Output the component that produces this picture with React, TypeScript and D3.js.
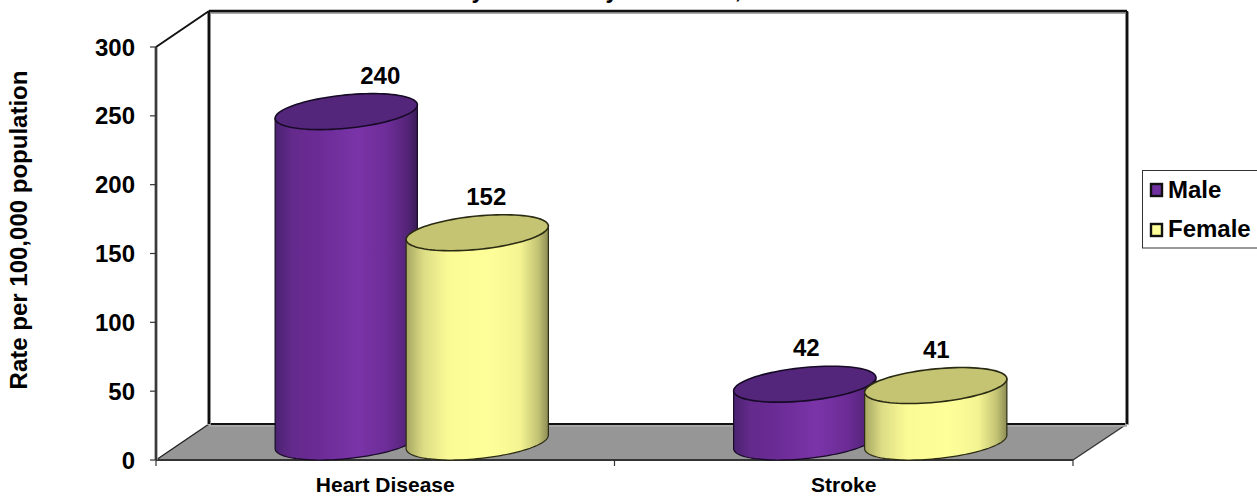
import React from "react";
import * as d3 from "d3";

const categories = ["Heart Disease", "Stroke"];
const seriesNames = ["Male", "Female"];
const maleValues = [240, 42];
const femaleValues = [152, 41];
const yTicks = [0, 50, 100, 150, 200, 250, 300];
const titleFragments = [
  { text: "y", x: 478 },
  { text: "y", x: 612 },
  { text: ",", x: 738 },
];
const maleLabelShift = [34, 1.5];
const femaleLabelShift = [9, 0.5];

const W = 1257;
const H = 497;
const FONT = "'Liberation Sans', Arial, sans-serif";
const frontLeft = 156;
const frontRight = 1073;
const frontBottom = 460;
const frontTop = 47;
const depthX = 53;
const depthY = 36;

const y = d3.scaleLinear().domain([0, 300]).range([frontBottom, frontTop]);
const xCat = d3.scaleBand<string>().domain(categories).range([frontLeft, frontRight]);
const xSeries = d3
  .scaleBand<string>()
  .domain(seriesNames)
  .range([0, xCat.bandwidth()])
  .paddingOuter(xCat.bandwidth() / 262 - 1);

const seriesColors: Record<string, { grad: string; top: string; stroke: string; swatch: string; stops: [number, string][] }> = {
  Male: {
    grad: "gradMale",
    top: "#54267b",
    stroke: "#170a26",
    swatch: "#7030a0",
    stops: [
      [0, "#4a2270"],
      [0.12, "#642a8c"],
      [0.3, "#6b2b95"],
      [0.58, "#7a34a8"],
      [0.8, "#6c2c96"],
      [0.93, "#542478"],
      [1, "#3a1a58"],
    ],
  },
  Female: {
    grad: "gradFemale",
    top: "#c4c473",
    stroke: "#2b2b14",
    swatch: "#ffff99",
    stops: [
      [0, "#a6a662"],
      [0.12, "#dcdc85"],
      [0.3, "#fbfb96"],
      [0.58, "#ffff9a"],
      [0.8, "#f4f492"],
      [0.93, "#c2c274"],
      [1, "#8c8c54"],
    ],
  },
};

const halfW = 66;
const skewX = depthX / 2;
const skewY = depthY / 2;
const angles = d3.range(0, 361, 4).map((d) => (d * Math.PI) / 180);
const extremeAngle = Math.atan2(skewX, halfW);

function ellipsePoint(cx: number, cy: number, t: number): [number, number] {
  return [cx + halfW * Math.cos(t) + skewX * Math.sin(t), cy - skewY * Math.sin(t)];
}
const curve = d3.line().curve(d3.curveLinear);

function Label(p: { x: number; y: number; text: string | number; size: number; anchor?: string; transform?: string }) {
  return (
    <text
      x={p.x}
      y={p.y}
      transform={p.transform}
      textAnchor={p.anchor ?? "middle"}
      fontSize={p.size}
      fontWeight={700}
      fontFamily={FONT}
      fill="#000"
    >
      {p.text}
    </text>
  );
}

function Cylinder({ series, cat, value, shift }: { series: string; cat: string; value: number; shift: number }) {
  const c = seriesColors[series];
  const cx = (xCat(cat) as number) + (xSeries(series) as number) + xSeries.bandwidth() / 2 + skewX;
  const cyBase = y(0) - skewY;
  const cyTop = y(value) - skewY;
  const lower = d3.range(0, 61).map((i) => extremeAngle - (i / 60) * Math.PI);
  const basePts = lower.map((t) => ellipsePoint(cx, cyBase, t));
  const topRight = ellipsePoint(cx, cyTop, extremeAngle);
  const topLeft = ellipsePoint(cx, cyTop, extremeAngle - Math.PI);
  const bodyPath = curve([topRight, ...basePts, topLeft]) + "Z";
  const topPath = curve(angles.map((t) => ellipsePoint(cx, cyTop, t))) + "Z";
  return (
    <g>
      <path d={bodyPath} fill={`url(#${c.grad})`} stroke={c.stroke} strokeWidth={1.2} strokeLinejoin="round" />
      <path d={topPath} fill={c.top} stroke={c.stroke} strokeWidth={1.6} />
      <Label x={cx + shift} y={cyTop - skewY - 10} text={value} size={24} />
    </g>
  );
}

function Rule({ x1, y1, x2, y2, w = 2.4 }: { x1: number; y1: number; x2: number; y2: number; w?: number }) {
  return (
    <g>
      <line x1={x1} y1={y1 + 1} x2={x2} y2={y2 + 1} stroke="#a8a8a8" strokeWidth={w + 1.4} />
      <line x1={x1} y1={y1} x2={x2} y2={y2} stroke="#111" strokeWidth={w} />
    </g>
  );
}

export default function App() {
  const backTop = y(300) - depthY;
  const backBottom = y(0) - depthY;
  const backLeft = frontLeft + depthX;
  const backRight = frontRight + depthX + 1;
  const floor = [
    [frontLeft, frontBottom],
    [backLeft, backBottom],
    [backRight, backBottom],
    [frontRight, frontBottom],
  ].join(" ");
  const catTickXs = [frontLeft, frontLeft + xCat.bandwidth(), frontRight];
  return (
    <svg
      width={W}
      height={H}
      viewBox={`0 0 ${W} ${H}`}
      style={{ position: "fixed", left: 0, top: 0, display: "block", background: "#fff" }}
    >
      <defs>
        {seriesNames.map((s) => (
          <linearGradient key={s} id={seriesColors[s].grad} x1="0" x2="1" y1="0" y2="0">
            {seriesColors[s].stops.map(([o, col]) => (
              <stop key={o} offset={o} stopColor={col} />
            ))}
          </linearGradient>
        ))}
      </defs>

      {titleFragments.map((f, i) => (
        <text key={i} x={f.x} y={-2} textAnchor="middle" fontSize={23} fontWeight={700} fontFamily={FONT}>
          {f.text}
        </text>
      ))}

      <polygon points={floor} fill="#969696" />
      <line x1={frontLeft} y1={frontBottom} x2={frontRight} y2={frontBottom} stroke="#333" strokeWidth={2} />
      <line x1={frontRight} y1={frontBottom} x2={backRight} y2={backBottom} stroke="#333" strokeWidth={1.4} />
      <line x1={frontLeft} y1={frontBottom} x2={backLeft} y2={backBottom} stroke="#222" strokeWidth={1.4} />
      <Rule x1={backLeft} y1={backBottom} x2={backRight} y2={backBottom} w={2} />
      <Rule x1={backLeft} y1={backTop} x2={backRight} y2={backTop} />
      <Rule x1={backLeft} y1={backTop} x2={backLeft} y2={backBottom} />
      <Rule x1={backRight} y1={backTop} x2={backRight} y2={backBottom} />
      <line x1={frontLeft} y1={y(300)} x2={backLeft} y2={backTop} stroke="#111" strokeWidth={2} />
      <line x1={frontLeft} y1={y(300)} x2={frontLeft} y2={frontBottom} stroke="#999" strokeWidth={3.4} />
      <line x1={frontLeft} y1={y(300)} x2={frontLeft} y2={frontBottom} stroke="#222" strokeWidth={1.6} />

      {yTicks.map((t) => (
        <g key={t}>
          <line x1={frontLeft - 6} x2={frontLeft} y1={y(t)} y2={y(t)} stroke="#333" strokeWidth={1.2} />
          <Label x={135} y={y(t) + 8.5} text={t} size={24} anchor="end" />
        </g>
      ))}
      {catTickXs.map((x, i) => (
        <line key={i} x1={x} x2={x} y1={frontBottom} y2={frontBottom + 6} stroke="#333" strokeWidth={1.2} />
      ))}
      {categories.map((c) => (
        <Label key={c} x={(xCat(c) as number) + xCat.bandwidth() / 2} y={491.5} text={c} size={21} />
      ))}

      <Label transform="translate(27,230) rotate(-90)" x={0} y={0} text="Rate per 100,000 population" size={24} />

      {categories.map((c, i) => (
        <g key={c}>
          <Cylinder series="Male" cat={c} value={maleValues[i]} shift={maleLabelShift[i]} />
          <Cylinder series="Female" cat={c} value={femaleValues[i]} shift={femaleLabelShift[i]} />
        </g>
      ))}

      <rect x={1142.5} y={170.5} width={130} height={77.5} fill="#fff" stroke="#333" strokeWidth={1} />
      <line x1={1142} x2={1257} y1={248.5} y2={248.5} stroke="#999" strokeWidth={1} />
      {seriesNames.map((s, i) => (
        <g key={s}>
          <rect
            x={1151}
            y={184 + i * 40}
            width={11}
            height={12}
            fill={seriesColors[s].swatch}
            stroke="#111"
            strokeWidth={2.4}
          />
          <Label x={1168} y={198 + i * 39} text={s} size={24} anchor="start" />
        </g>
      ))}
    </svg>
  );
}
